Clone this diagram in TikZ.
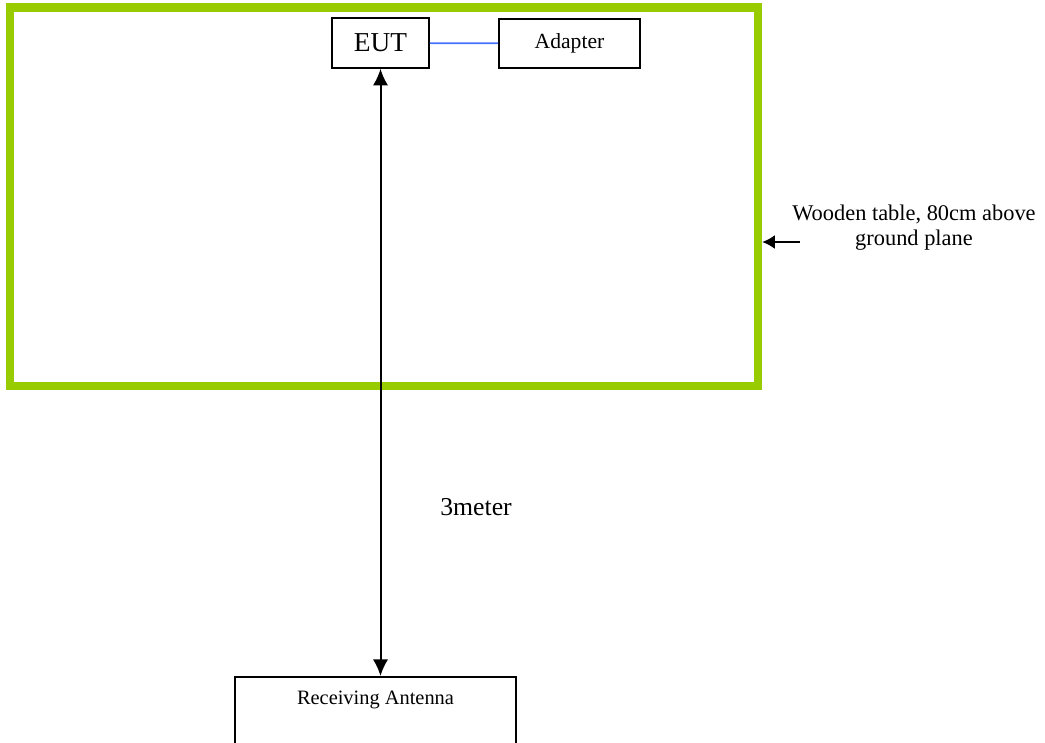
\documentclass[tikz,border=0pt]{standalone}
\usepackage{fontspec}
\setmainfont{Liberation Serif}
\usetikzlibrary{shapes,arrows,arrows.meta}
\definecolor{tablegreen}{RGB}{153,204,0}
\definecolor{cableblue}{RGB}{66,114,255}
\tikzstyle{block} = [rectangle, draw, line width=1.2pt, inner sep=0pt]
\tikzstyle{tableframe} = [rectangle, draw=tablegreen, line width=6.3pt, inner sep=0pt]
\tikzstyle{arrow} = [draw, {Latex[length=12.5pt,width=11.5pt]}-{Latex[length=12.5pt,width=11.5pt]}, line width=1.5pt]
\tikzstyle{pointer} = [draw, -{Latex[length=9.5pt,width=10.5pt]}, line width=1.4pt]
\tikzstyle{line} = [draw, cableblue, line width=1.3pt]

\begin{document}
\begin{tikzpicture}[x=0.75pt, y=-0.75pt]
			% page size, antenna box runs off the bottom
			\useasboundingbox (0,0) rectangle (1045,742);
			\clip (0,0) rectangle (1045,742);
			% Place nodes
			\node [tableframe, minimum width=561pt, minimum height=284pt] (table) at (384,196.75) {};
			\node [block, minimum width=72.75pt, minimum height=37.5pt, font=\fontsize{20.5}{24}\selectfont] (eut) at (380.5,43) {EUT};
			\node [block, minimum width=105.75pt, minimum height=36.75pt, font=\fontsize{16.2}{19}\selectfont] (adapter) at (569.5,43.5) {Adapter};
			\node [block, anchor=north, minimum width=210.75pt, minimum height=82.5pt,
				label={[anchor=center, yshift=-18pt, font=\fontsize{15.3}{18}\selectfont]north:Receiving Antenna}] (antenna) at (375.5,676) {};
			\node [align=center, font=\fontsize{16.8}{18.75}\selectfont] (tablelabel) at (914,228) {Wooden table, 80cm above\\ground plane};
			\node [font=\fontsize{19.3}{23}\selectfont] (distance) at (476,507) {3meter};
			\coordinate (tabletip) at (800,242);
			% Connections
			\path [line] (eut) -- (adapter);
			\path [arrow] (eut.south) -- (eut.south |- antenna.north);
			\path [pointer] (tabletip) -- (tabletip -| table.east);
\end{tikzpicture}
\end{document}
